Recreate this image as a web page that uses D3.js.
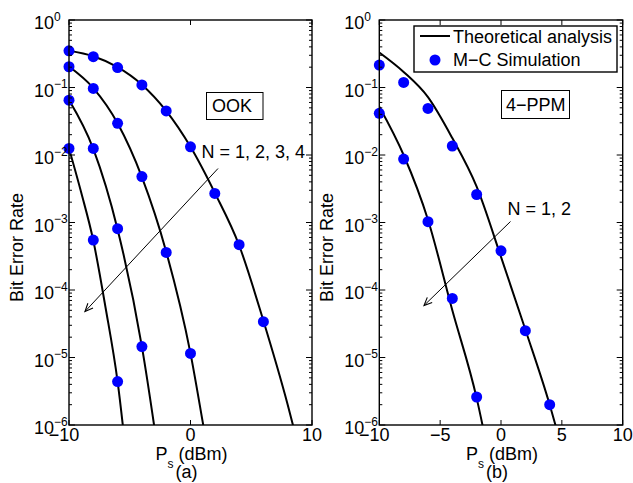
<!DOCTYPE html>
<html>
<head>
<meta charset="utf-8">
<script src="https://cdn.jsdelivr.net/npm/d3@7"></script>
<style>
    body { margin: 0; background: #fff; }
    svg { display: block; font-family: 'Liberation Sans', Arial, sans-serif; }
</style>
</head>
<body>
<svg id="chart" width="633" height="483"></svg>
<script>
// sample points (M-C simulation)
const simX = [-10, -8, -6, -4, -2, 0, 2, 4, 6]
const ookSim = [
    [0.35, 0.286, 0.197, 0.109, 0.045, 0.0132, 0.0027, 4.7e-4, 3.4e-5],
    [0.203, 0.097, 0.0295, 4.8e-3, 3.6e-4, 1.15e-5],
    [0.065, 0.0125, 8.1e-4, 1.45e-5],
    [0.0125, 5.5e-4, 4.4e-6]
]
const ppmSim = [
    [0.215, 0.119, 0.049, 0.0136, 2.6e-3, 3.8e-4, 2.5e-5, 2.0e-6],
    [0.0415, 8.7e-3, 1.03e-3, 7.5e-5, 2.6e-6]
]

// theoretical curves
const ookTheoryX = [
    [-10, -8, -6, -4, -2, 0, 2, 4, 6, 8, 9],
    [-10, -8, -6, -4, -2, 0, 1, 2],
    [-10, -8, -6, -4, -3, -2],
    [-10, -9, -8, -7, -6, -5]
]
const ookTheory = [
    [0.35, 0.29, 0.2, 0.11, 0.045, 0.0132, 0.00275, 4.6e-4, 3.5e-5, 2.0e-6, 4.0e-7],
    [0.204, 0.098, 0.0295, 4.7e-3, 3.7e-4, 1.15e-5, 1.12e-6, 1e-7],
    [0.065, 0.0123, 7.9e-4, 1.45e-5, 1e-6, 5e-8],
    [0.0125, 2.8e-3, 5.4e-4, 5.6e-5, 4.4e-6, 1.1e-7]
]
const ppmTheoryX = [
    [-10, -8, -6, -4, -2, 0, 2, 4, 5],
    [-10, -8, -6, -4, -2, -1]
]
const ppmTheory = [
    [0.33, 0.17, 0.072, 0.0178, 3.4e-3, 3.1e-4, 2.6e-5, 2.0e-6, 4.5e-7],
    [0.052, 0.01, 1.1e-3, 5e-5, 2.5e-6, 3.5e-7]
]

const ookXTicks = [-10, 0, 10]
const ppmXTicks = [-10, -5, 0, 5, 10]
const yExponents = [0, -1, -2, -3, -4, -5, -6]
const legendLabels = ['Theoretical analysis', 'M\u2212C Simulation']

const svg = d3.select('#chart')

svg.append('defs').append('marker')
    .attr('id', 'arrow-head')
    .attr('viewBox', '-10 -5 12 10')
    .attr('markerWidth', 12)
    .attr('markerHeight', 10)
    .attr('markerUnits', 'userSpaceOnUse')
    .attr('orient', 'auto')
    .append('path')
    .attr('d', 'M-8,-3.5 L0,0 L-8,3.5')
    .attr('fill', 'none')
    .attr('stroke', '#000')
    .attr('stroke-width', 1.1)

function fmt (v) {
    return v < 0 ? '\u2212' + Math.abs(v) : String(v)
}

function drawPanel (opt) {
    const { id, left, right, top, bottom, xTicks, sim, theoryX, theory } = opt

    const x = d3.scaleLinear().domain([-10, 10]).range([left, right])
    const y = d3.scaleLog().domain([1e-6, 1]).range([bottom, top])

    const g = svg.append('g').attr('class', 'panel-' + id)

    g.append('clipPath')
        .attr('id', 'clip-' + id)
        .append('rect')
        .attr('x', left)
        .attr('y', top)
        .attr('width', right - left)
        .attr('height', bottom - top)

    // curves
    const line = d3.line()
        .x(d => x(d[0]))
        .y(d => y(d[1]))
        .curve(d3.curveMonotoneX)

    const gPlot = g.append('g').attr('clip-path', `url(#clip-${id})`)

    gPlot.selectAll('path.theory')
        .data(theory.map((vals, i) => vals.map((v, j) => [theoryX[i][j], v])))
        .enter()
        .append('path')
        .attr('class', 'theory')
        .attr('d', line)
        .attr('fill', 'none')
        .attr('stroke', '#000')
        .attr('stroke-width', 2)

    const pts = []
    sim.forEach(vals => vals.forEach((v, j) => pts.push([simX[j], v])))

    g.selectAll('circle.sim')
        .data(pts)
        .enter()
        .append('circle')
        .attr('class', 'sim')
        .attr('cx', d => x(d[0]))
        .attr('cy', d => y(d[1]))
        .attr('r', 5.5)
        .attr('fill', '#0000ff')

    // box
    g.append('rect')
        .attr('x', left)
        .attr('y', top)
        .attr('width', right - left)
        .attr('height', bottom - top)
        .attr('fill', 'none')
        .attr('stroke', '#000')
        .attr('stroke-width', 1.4)

    // y ticks, major and minor, on both sides
    const minor = []
    yExponents.slice(1).forEach(e => {
        for (let k = 2; k <= 9; k++) minor.push(k * Math.pow(10, e))
    })
    const gTicks = g.append('g')
        .attr('stroke', '#000')
        .attr('stroke-width', 1)
    yExponents.forEach(e => {
        const yy = y(Math.pow(10, e))
        gTicks.append('line').attr('x1', left).attr('x2', left + 6).attr('y1', yy).attr('y2', yy)
        gTicks.append('line').attr('x1', right).attr('x2', right - 6).attr('y1', yy).attr('y2', yy)
    })
    minor.forEach(v => {
        const yy = y(v)
        gTicks.append('line').attr('x1', left).attr('x2', left + 3).attr('y1', yy).attr('y2', yy)
        gTicks.append('line').attr('x1', right).attr('x2', right - 3).attr('y1', yy).attr('y2', yy)
    })
    xTicks.forEach(t => {
        const xx = x(t)
        gTicks.append('line').attr('x1', xx).attr('x2', xx).attr('y1', bottom).attr('y2', bottom - 5)
        gTicks.append('line').attr('x1', xx).attr('x2', xx).attr('y1', top).attr('y2', top + 5)
    })

    // y tick labels
    const yLab = g.selectAll('text.ytick')
        .data(yExponents)
        .enter()
        .append('text')
        .attr('class', 'ytick')
        .attr('x', left - 35)
        .attr('y', d => y(Math.pow(10, d)) + 9)
        .attr('font-size', 18)
    yLab.append('tspan').text('10')
    yLab.append('tspan')
        .attr('font-size', 12)
        .attr('dy', -8.5)
        .text(d => fmt(d))

    // x tick labels
    g.selectAll('text.xtick')
        .data(xTicks)
        .enter()
        .append('text')
        .attr('class', 'xtick')
        .attr('x', d => x(d) + (d === -10 ? -5 : 0))
        .attr('y', bottom + 16)
        .attr('text-anchor', 'middle')
        .attr('font-size', 18)
        .text(d => fmt(d))

    // axis labels
    const cx = (left + right) / 2
    const xl = g.append('text')
        .attr('x', cx + 1)
        .attr('y', bottom + 34.5)
        .attr('text-anchor', 'middle')
        .attr('font-size', 18)
    xl.append('tspan').text('P')
    xl.append('tspan').attr('font-size', 12).attr('dy', 8).text('s')
    xl.append('tspan').attr('dy', -8).text(' (dBm)')

    g.append('text')
        .attr('x', cx - 4)
        .attr('y', bottom + 53)
        .attr('text-anchor', 'middle')
        .attr('font-size', 18)
        .text(id === 'ook' ? '(a)' : '(b)')

    g.append('text')
        .attr('transform', `translate(${left - 46},${(top + bottom) / 2 + 25}) rotate(-90)`)
        .attr('text-anchor', 'middle')
        .attr('font-size', 18)
        .text('Bit Error Rate')

    return { g, x, y }
}

const ook = drawPanel({
    id: 'ook', left: 69, right: 312, top: 20, bottom: 425,
    xTicks: ookXTicks, sim: ookSim, theoryX: ookTheoryX, theory: ookTheory
})
const ppm = drawPanel({
    id: 'ppm', left: 379.3, right: 622.7, top: 20, bottom: 425,
    xTicks: ppmXTicks, sim: ppmSim, theoryX: ppmTheoryX, theory: ppmTheory
})

function labelBox (g, x0, y0, x1, y1, label, tx, ty) {
    g.append('rect')
        .attr('x', x0).attr('y', y0)
        .attr('width', x1 - x0).attr('height', y1 - y0)
        .attr('fill', '#fff')
        .attr('stroke', '#000')
        .attr('stroke-width', 1)
    g.append('text')
        .attr('x', tx).attr('y', ty)
        .attr('font-size', 18)
        .text(label)
}

labelBox(ook.g, 206.5, 92.5, 263, 119.5, 'OOK', 212, 112)
labelBox(ppm.g, 501.5, 90.5, 569.5, 118.5, '4\u2212PPM', 506, 111)

// N arrows
ook.g.append('text').attr('x', 201.5).attr('y', 157.5).attr('font-size', 18).text('N = 1, 2, 3, 4')
ook.g.append('line')
    .attr('x1', 218).attr('y1', 168.5).attr('x2', 85).attr('y2', 311.5)
    .attr('stroke', '#000').attr('stroke-width', 1)
    .attr('marker-end', 'url(#arrow-head)')

ppm.g.append('text').attr('x', 507.5).attr('y', 214.5).attr('font-size', 18).text('N = 1, 2')
ppm.g.append('line')
    .attr('x1', 510.5).attr('y1', 221.5).attr('x2', 424).attr('y2', 305.5)
    .attr('stroke', '#000').attr('stroke-width', 1)
    .attr('marker-end', 'url(#arrow-head)')

// legend
const gLegend = ppm.g.append('g').attr('class', 'legend')
gLegend.append('rect')
    .attr('x', 414).attr('y', 26)
    .attr('width', 203).attr('height', 46)
    .attr('fill', '#fff')
    .attr('stroke', '#000')
    .attr('stroke-width', 1.4)
gLegend.append('line')
    .attr('x1', 420).attr('x2', 450).attr('y1', 36).attr('y2', 36)
    .attr('stroke', '#000').attr('stroke-width', 2)
gLegend.append('circle')
    .attr('cx', 435).attr('cy', 60).attr('r', 5.5)
    .attr('fill', '#0000ff')
gLegend.selectAll('text')
    .data(legendLabels)
    .enter()
    .append('text')
    .attr('x', 453)
    .attr('y', (d, i) => 43 + i * 23)
    .attr('font-size', 18)
    .text(d => d)
</script>
</body>
</html>
